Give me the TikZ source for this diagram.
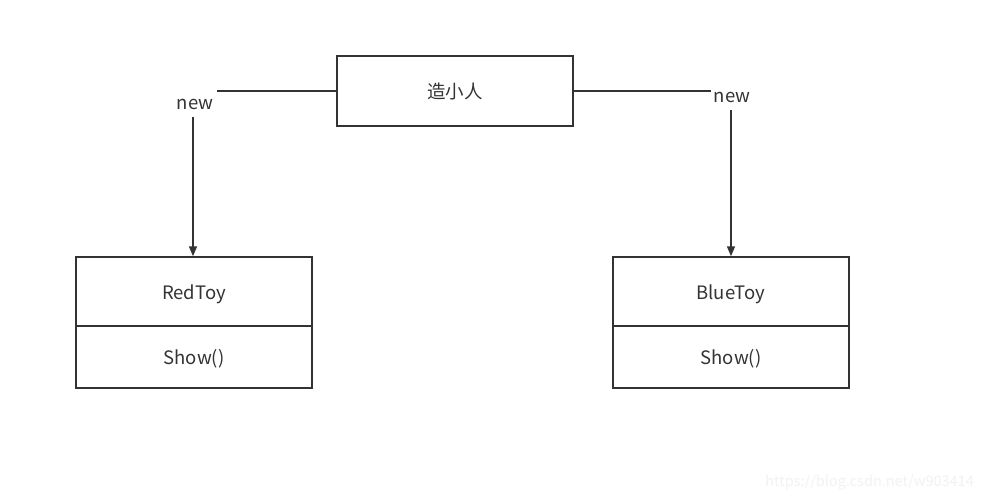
\documentclass[tikz,border=0pt]{standalone}
\usepackage{fontspec}
\setmainfont{Noto Sans CJK SC}
\usetikzlibrary{arrows.meta}
\definecolor{ln}{HTML}{333333}
\definecolor{wm}{HTML}{F2F2F2}
\begin{document}
\begin{tikzpicture}[x=1pt,y=-1pt,line join=miter,
  box/.style={draw=ln,line width=1.5pt,minimum width=236pt,inner sep=0pt},
  txt/.style={font=\fontsize{18.5}{22}\selectfont,text=ln},
  conn/.style={draw=ln,line width=1.5pt},
  arr/.style={conn,-{Triangle[length=10pt,width=8pt]}}]
\useasboundingbox[fill=white] (0,0) rectangle (983,501);
\node[box,minimum height=70pt,txt] (top) at (455,91) {造小人};
% left class
\node[box,minimum height=131pt] (red) at (194,322.5) {};
\draw[conn] (red.west |- 0,326) -- (red.east |- 0,326);
\node[txt] (redn) at (194,294) {RedToy};
\node[txt] (redm) at (194,359) {Show()};
% right class
\node[box,minimum height=131pt] (blue) at (731,322.5) {};
\draw[conn] (blue.west |- 0,326) -- (blue.east |- 0,326);
\node[txt] (bluen) at (731,294) {BlueToy};
\node[txt] (bluem) at (731,359) {Show()};
% labels
\node[txt,inner sep=0pt] (newL) at (195,104) {new};
\node[txt,inner sep=0pt] (newR) at (732,97.5) {new};
\coordinate (lend) at (217,91);
\coordinate (rend) at (711,91);
\draw[conn] (top.west) -- (lend);
\draw[conn] (top.east) -- (rend);
\draw[arr] (193,117) -- (red.north -| 193,0);
\draw[arr] (731,110) -- (blue.north);
% watermark
\node[font=\fontsize{14.5}{16}\selectfont,text=wm,anchor=east,inner sep=0pt] (wmk) at (974,483) {https://blog.csdn.net/w903414};
\end{tikzpicture}
\end{document}
